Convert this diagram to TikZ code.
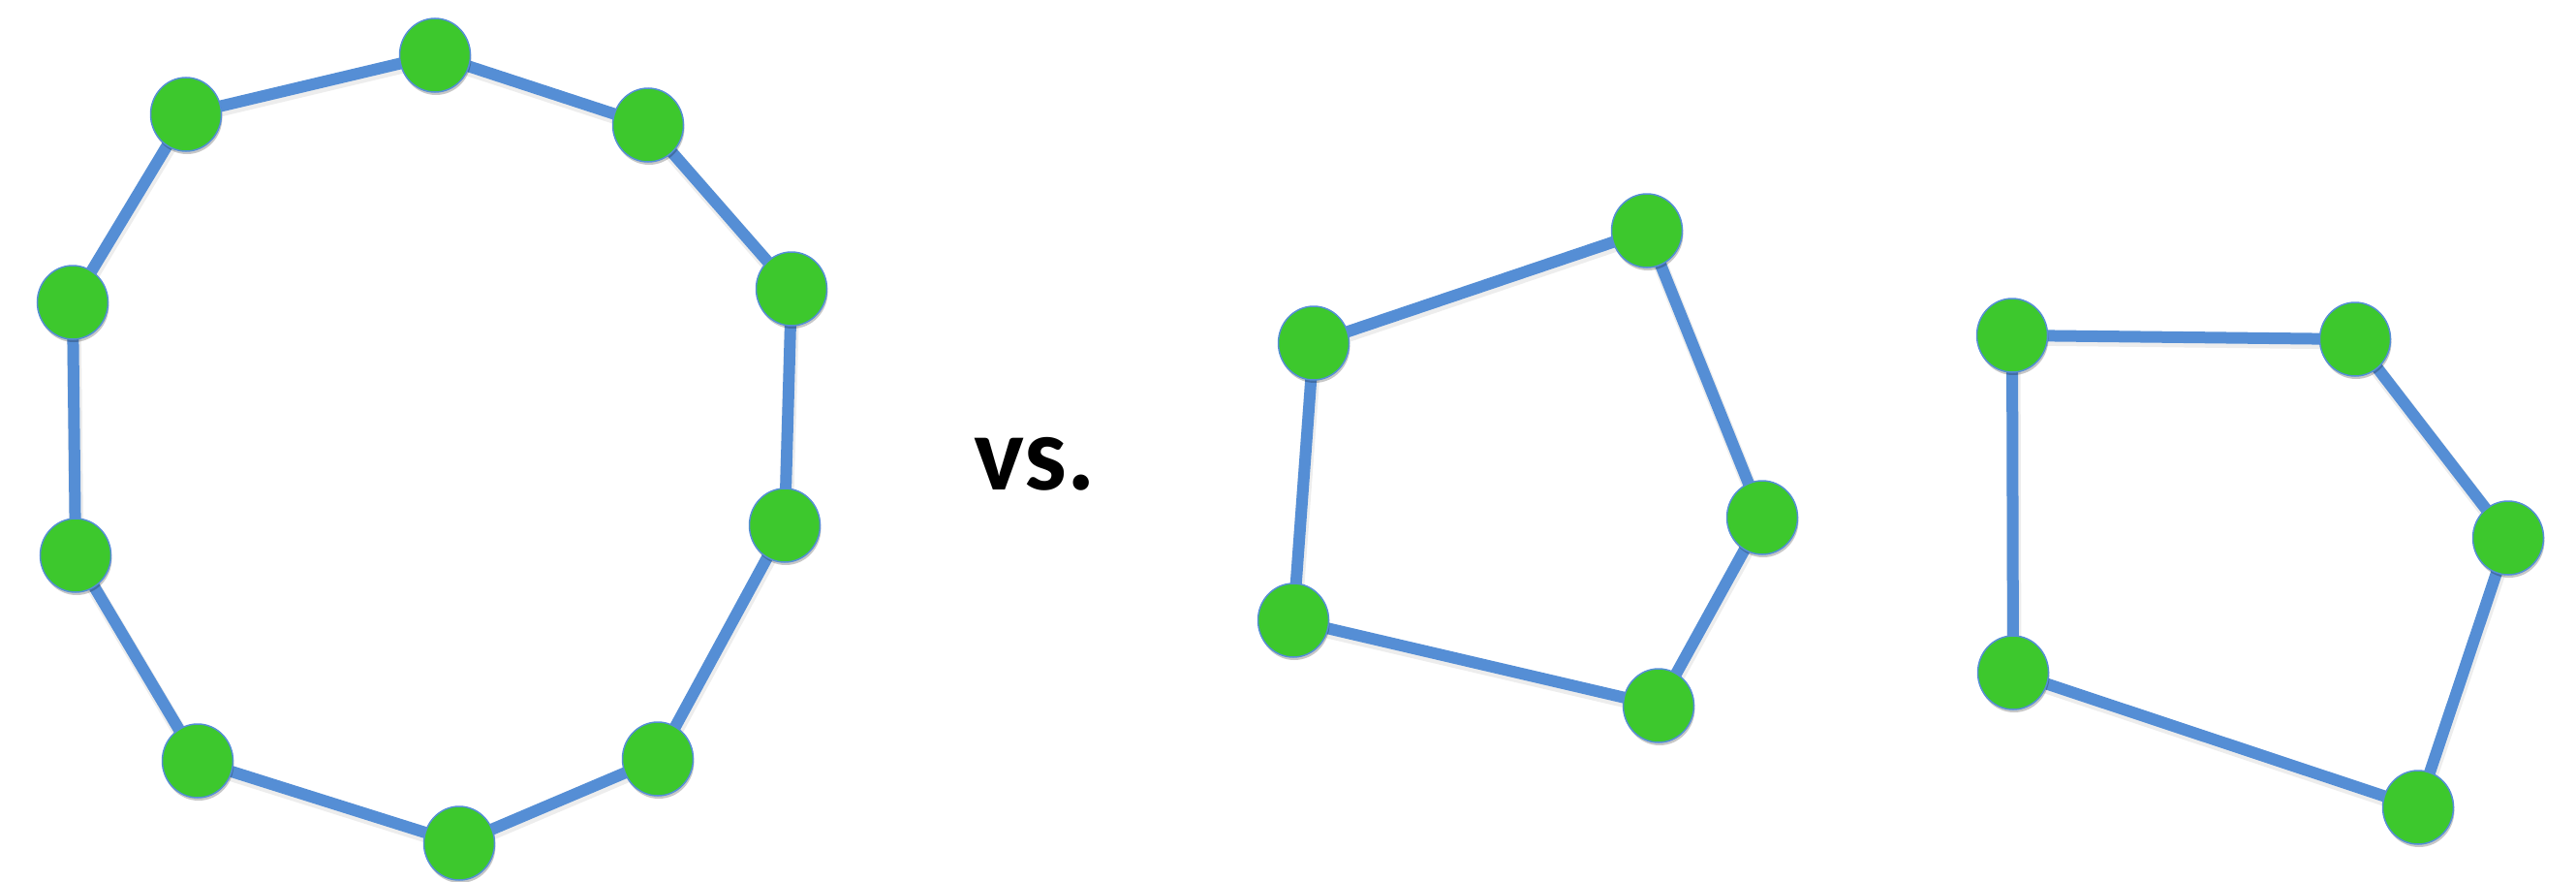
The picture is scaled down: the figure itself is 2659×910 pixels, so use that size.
\documentclass[tikz,border=0pt]{standalone}
\usepackage{fontspec}
\setmainfont{Carlito}
\usetikzlibrary{shapes.geometric,shadows}
\definecolor{edgeblue}{RGB}{85,142,213}
\definecolor{nodegreen}{RGB}{61,200,45}
\pgfdeclarelayer{bg}
\pgfsetlayers{bg,main}
\tikzset{
  vert/.style={ellipse, draw=edgeblue, line width=1.5pt, fill=nodegreen,
    minimum width=73pt, minimum height=76pt, inner sep=0pt,
    drop shadow={shadow xshift=1pt, shadow yshift=-3pt, opacity=0.22, fill=black}},
  link/.style={edgeblue, line width=12pt},
  linkshadow/.style={black, opacity=0.07, line width=15pt, transform canvas={shift={(1,3)}}},
  vslabel/.style={font=\bfseries\fontsize{110}{110}\selectfont, anchor=base, inner sep=0pt}
}
\begin{document}
\begin{tikzpicture}[x=1pt,y=-1pt]
\useasboundingbox (0,0) rectangle (2659,910);
% left graph
\foreach \n/\p in {L1/{(449,57)},L2/{(669,129)},L3/{(817,298)},L4/{(810,542)},L5/{(679,783)},L6/{(474,870)},L7/{(204,785)},L8/{(78,573)},L9/{(75,312)},L10/{(192,118)}}
  \node[vert] (\n) at \p {};
% middle graph
\foreach \n/\p in {M1/{(1356,354)},M2/{(1700,238)},M3/{(1819,534)},M4/{(1712,728)},M5/{(1335,640)}}
  \node[vert] (\n) at \p {};
% right graph
\foreach \n/\p in {R1/{(2077,346)},R2/{(2431,350)},R3/{(2589,555)},R4/{(2496,833)},R5/{(2078,694)}}
  \node[vert] (\n) at \p {};
\node[vslabel] (vs) at (1068,505) {vs.};
\begin{pgfonlayer}{bg}
  \foreach \st in {linkshadow,link}{
    \draw[\st] (L1.center) -- (L2.center) -- (L3.center) -- (L4.center) -- (L5.center)
      -- (L6.center) -- (L7.center) -- (L8.center) -- (L9.center) -- (L10.center) -- cycle;
    \draw[\st] (M1.center) -- (M2.center) -- (M3.center) -- (M4.center) -- (M5.center) -- cycle;
    \draw[\st] (R1.center) -- (R2.center) -- (R3.center) -- (R4.center) -- (R5.center) -- cycle;
  }
\end{pgfonlayer}
\end{tikzpicture}
\end{document}
